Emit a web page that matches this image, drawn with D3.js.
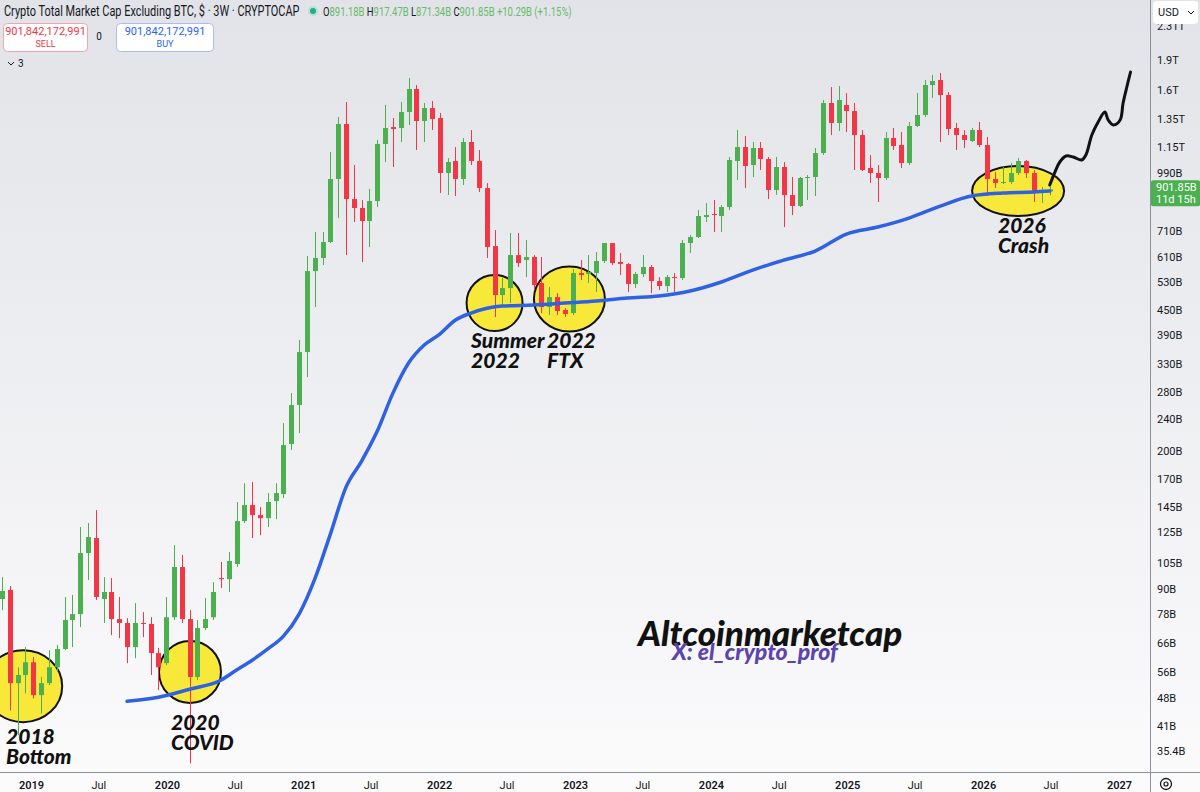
<!DOCTYPE html>
<html>
<head>
  <meta charset="utf-8">
  <title>altcoin-market-cap</title>
  <style>
    * { margin: 0; padding: 0; }
    body { width: 1200px; height: 792px; overflow: hidden; background: #fff; }
    svg { display: block; font-family: Roboto, "Liberation Sans", sans-serif; }
    .note { font-family: Lato, "Open Sans", sans-serif; font-style: italic; font-weight: 900; }
  </style>
</head>
<body>
  <svg id="chart" width="1200" height="792"></svg>
  <script src="https://cdnjs.cloudflare.com/ajax/libs/d3/7.8.5/d3.min.js"></script>
  <script>
    // 3W candles, values in billions USD
    const firstCandle = new Date(Date.UTC(2018, 9, 15))
    const candleOpen = [85.1, 89.6, 52.4, 54.9, 59.1, 48.9, 52.4, 57.4, 63.8, 75.4,
      78.0, 110.9, 120.9, 85.1, 88.6, 75.8, 74.1, 64.5, 74.1, 73.7,
      62.3, 58.8, 76.6, 102.3, 75.8, 54.3, 72.0, 76.6, 96.0, 95.4,
      104.1, 133.3, 146.2, 138.0, 135.6, 149.6, 155.8, 207.8, 260.2, 353.1,
      563.1, 607.0, 665.6, 957.1, 1313.9, 852.8, 809.7, 751.3, 843.0, 1170.9,
      1291.4, 1284.0, 1408.1, 1607.6, 1336.9, 1440.9, 1360.2, 990.7, 1061.7, 957.1,
      1184.5, 1061.7, 908.6, 650.4, 490.4, 510.6, 617.5, 600.0, 610.5, 525.5,
      457.7, 484.7, 449.8, 442.1, 556.7, 553.5, 556.7, 596.6, 661.8, 593.1,
      586.3, 522.5, 553.5, 576.3, 531.6, 516.5, 544.0, 540.9, 661.8, 685.1,
      768.8, 782.2, 773.2, 814.4, 1061.7, 1150.8, 1037.5, 1144.2, 1073.9, 898.2,
      1025.6, 872.7, 819.1, 962.6, 968.1, 1111.7, 1483.0, 1321.6, 1466.0, 1416.2,
      1233.2, 1019.7, 990.7, 962.6, 1212.1, 1164.2, 1049.5, 1298.9, 1383.9, 1645.1,
      1693.2, 1553.0, 1284.0, 1233.2, 1191.3, 1269.3, 1164.2, 957.1, 935.2, 940.6,
      990.7, 1061.7, 990.7, 887.9, 891.18]
    const candleHigh = [96.5, 91.7, 57.4, 64.5, 60.9, 54.3, 63.4, 65.3, 86.1, 87.1,
      128.8, 131.8, 142.0, 96.5, 96.0, 86.1, 76.2, 83.1, 78.9, 76.6,
      64.2, 86.1, 116.1, 109.6, 79.8, 75.4, 85.6, 93.8, 105.3, 111.5,
      148.8, 165.9, 166.9, 144.5, 156.7, 165.9, 234.5, 278.7, 378.4, 614.0,
      705.1, 705.1, 1118.1, 1368.1, 1491.6, 1037.5, 847.9, 903.4, 1198.2, 1466.0,
      1360.2, 1491.6, 1712.9, 1645.1, 1483.0, 1500.2, 1400.0, 1080.1, 1150.8, 1212.1,
      1269.3, 1131.1, 935.2, 713.3, 540.9, 701.1, 701.1, 673.3, 617.5, 610.5,
      513.6, 496.0, 455.0, 569.7, 600.0, 617.5, 628.3, 661.8, 661.8, 624.7,
      589.7, 559.9, 617.5, 583.0, 544.0, 550.3, 556.7, 673.3, 693.0, 800.4,
      833.4, 847.9, 823.8, 1086.4, 1269.3, 1226.2, 1184.5, 1184.5, 1086.4, 1086.4,
      1055.6, 968.1, 968.1, 979.4, 1144.2, 1508.9, 1626.3, 1635.6, 1571.0, 1483.0,
      1269.3, 1099.0, 1037.5, 1254.8, 1284.0, 1254.8, 1329.2, 1571.0, 1693.2, 1742.7,
      1763.0, 1580.1, 1321.6, 1269.3, 1284.0, 1329.2, 1219.1, 996.4, 1025.6, 1049.5,
      1080.1, 1067.8, 1008.0, 913.9, 917.47]
    const candleLow = [79.8, 44.8, 38.8, 49.4, 48.0, 44.0, 51.8, 55.9, 63.4, 64.5,
      72.4, 94.9, 84.6, 74.1, 69.1, 67.9, 58.8, 60.5, 68.3, 54.9,
      50.3, 58.1, 75.4, 74.1, 33.0, 53.3, 71.1, 75.4, 90.6, 88.6,
      102.3, 131.8, 120.9, 123.0, 128.8, 134.8, 152.2, 200.7, 221.3, 305.7,
      457.7, 583.0, 661.8, 764.3, 617.5, 746.9, 593.1, 646.7, 814.4, 1055.6,
      1025.6, 1184.5, 1306.4, 1131.1, 1184.5, 1269.3, 882.8, 872.7, 867.7, 924.5,
      1037.5, 887.9, 607.0, 432.0, 463.0, 468.3, 576.3, 544.0, 504.7, 442.1,
      437.0, 437.0, 432.0, 437.0, 534.7, 525.5, 498.9, 589.7, 583.0, 550.3,
      498.9, 510.6, 544.0, 496.0, 504.7, 498.9, 498.9, 534.7, 624.7, 681.2,
      746.9, 705.1, 705.1, 800.4, 951.5, 908.6, 968.1, 1008.0, 852.8, 872.7,
      725.7, 777.7, 814.4, 847.9, 867.7, 1099.0, 1233.2, 1262.0, 1254.8, 1008.0,
      1002.2, 935.2, 838.2, 951.5, 1131.1, 1019.7, 1037.5, 1291.4, 1368.1, 1526.4,
      1184.5, 1233.2, 1131.1, 1144.2, 1184.5, 1150.8, 867.7, 908.6, 929.8, 929.8,
      979.4, 962.6, 838.2, 833.4, 871.34]
    const candleClose = [89.1, 52.4, 54.9, 59.1, 48.9, 52.4, 57.4, 63.8, 75.4, 78.0,
      110.9, 121.6, 86.1, 88.6, 75.8, 74.1, 64.5, 74.1, 73.7, 62.3,
      57.4, 76.6, 102.3, 75.8, 54.3, 72.0, 75.8, 88.6, 95.4, 105.9,
      133.3, 146.2, 138.0, 135.6, 148.8, 156.7, 206.6, 260.2, 353.1, 563.1,
      607.0, 665.6, 957.1, 1313.9, 852.8, 809.7, 751.3, 843.0, 1170.9, 1284.0,
      1276.6, 1408.1, 1607.6, 1336.9, 1440.9, 1352.4, 990.7, 1055.6, 957.1, 1184.5,
      1061.7, 908.6, 646.7, 490.4, 510.6, 617.5, 589.7, 610.5, 519.5, 457.7,
      484.7, 447.2, 439.5, 556.7, 550.3, 559.9, 596.6, 661.8, 589.7, 586.3,
      522.5, 553.5, 576.3, 531.6, 516.5, 544.0, 540.9, 661.8, 685.1, 773.2,
      777.7, 777.7, 814.4, 1067.8, 1150.8, 1031.5, 1144.2, 1073.9, 898.2, 1025.6,
      872.7, 819.1, 962.6, 968.1, 1111.7, 1483.0, 1321.6, 1508.9, 1416.2, 1233.2,
      1008.0, 990.7, 962.6, 1212.1, 1157.5, 1049.5, 1298.9, 1383.9, 1645.1, 1683.5,
      1553.0, 1276.6, 1233.2, 1198.2, 1269.3, 1164.2, 957.1, 935.2, 940.6, 990.7,
      1061.7, 990.7, 887.9, 898.2, 901.85]

    // blue moving average, read at candle indexes
    const maAt = [16, 20, 24, 28, 30, 32, 34, 36, 38, 40, 42, 44, 46, 48, 50, 52, 54, 56, 58, 60,
      64, 68, 72, 76, 80, 84, 88, 92, 96, 100, 104, 108, 112, 116, 120, 124, 128, 132, 134]
    const maValue = [47.2, 48.3, 50.6, 53.3, 56.5, 59.8, 63.8, 68.7, 78.0, 95.4, 123.7, 162.1, 188.4, 223.9,
      278.7, 331.4, 367.6, 391.7, 424.6, 442.1, 460.3, 463.0, 468.3, 473.8, 482.0, 487.5, 501.8, 528.6,
      566.4, 600.0, 632.0, 697.0, 725.7, 764.3, 819.1, 867.7, 882.8, 887.9, 893.0]

    // hand drawn projection after the last candle
    const sketchDays = [0, 14, 27, 44, 63, 86, 97, 113, 130, 148, 157, 171, 189, 197, 207, 217]
    const sketchValue = [924.5, 996.4, 1055.6, 1092.7, 1086.4, 1067.8, 1099.0, 1233.2, 1329.2, 1408.1,
      1344.6, 1306.4, 1344.6, 1483.0, 1626.3, 1773.1]

    // circled areas and their labels
    const circleDate = ['2018-12-11', '2020-03-03', '2022-05-30', '2022-12-17', '2026-04-05']
    const circleValue = [51.5, 55.9, 468.3, 479.2, 893.0]
    const noteText = [['2018', 'Bottom'], ['2020', 'COVID'], ['Summer', '2022'], ['2022', 'FTX'], ['2026', 'Crash']]
    const noteDate = ['2018-10-26', '2020-01-12', '2022-03-28', '2022-10-18', '2026-02-10']
    const noteValue = [36.8, 39.9, 361.3, 361.3, 701.1]

    const yTicks = [35.4, 41, 48, 56, 66, 78, 90, 105, 125, 145, 170, 200, 240, 280, 330, 390, 450,
      530, 610, 710, 990, 1150, 1350, 1600, 1900, 2310]
    const lastPrice = 901.85

    const W = 1200, H = 792, plotRight = 1150, plotBottom = 772
    const up = '#4caf50', down = '#f23645'

    const x = d3.scaleUtc()
      .domain([new Date(Date.UTC(2019, 0, 1)), new Date(Date.UTC(2027, 0, 1))])
      .range([31, 1119])
    const y = d3.scaleLog().domain([31.4, 2685]).range([plotBottom, 0])

    const candles = candleOpen.map((o, i) => ({
      date: d3.utcDay.offset(firstCandle, 21 * i),
      o, h: candleHigh[i], l: candleLow[i], c: candleClose[i]
    }))

    const svg = d3.select('#chart')
    const defs = svg.append('defs')
    const grad = defs.append('linearGradient').attr('id', 'bg').attr('x1', 0).attr('y1', 0).attr('x2', 0).attr('y2', 1)
    grad.append('stop').attr('offset', '0%').attr('stop-color', '#e2e3e8')
    grad.append('stop').attr('offset', '100%').attr('stop-color', '#fbfbfc')
    defs.append('clipPath').attr('id', 'plot').append('rect').attr('width', plotRight).attr('height', plotBottom)

    svg.append('rect').attr('width', W).attr('height', H).attr('fill', 'url(#bg)')

    const plot = svg.append('g').attr('clip-path', 'url(#plot)')

    // yellow circles under the candles
    const circleR = [[39, 36], [31, 31], [28, 28], [35.5, 32.5], [46, 25]]
    plot.append('g').selectAll('ellipse')
      .data(circleDate)
      .join('ellipse')
      .attr('cx', d => x(new Date(d)))
      .attr('cy', (d, i) => y(circleValue[i]))
      .attr('rx', (d, i) => circleR[i][0])
      .attr('ry', (d, i) => circleR[i][1])
      .attr('fill', '#f7e83a')
      .attr('stroke', '#111')
      .attr('stroke-width', 2)

    const cg = plot.append('g')
    cg.selectAll('line')
      .data(candles)
      .join('line')
      .attr('x1', d => Math.round(x(d.date)) + 0.5)
      .attr('x2', d => Math.round(x(d.date)) + 0.5)
      .attr('y1', d => y(d.h))
      .attr('y2', d => y(d.l))
      .attr('stroke', d => d.c >= d.o ? up : down)
      .attr('stroke-width', 1)
    cg.selectAll('rect')
      .data(candles)
      .join('rect')
      .attr('x', d => Math.round(x(d.date)) - 2)
      .attr('width', 5)
      .attr('y', d => y(Math.max(d.o, d.c)))
      .attr('height', d => Math.max(1, Math.abs(y(d.o) - y(d.c))))
      .attr('fill', d => d.c >= d.o ? up : down)

    // moving average
    const ma = maAt.map((k, i) => ({ date: candles[k].date, v: maValue[i] }))
    plot.append('path')
      .datum(ma)
      .attr('fill', 'none')
      .attr('stroke', '#2f62e3')
      .attr('stroke-width', 3.5)
      .attr('stroke-linecap', 'round')
      .attr('d', d3.line().x(d => x(d.date)).y(d => y(d.v)).curve(d3.curveMonotoneX))

    // projection scribble
    const lastDate = candles[candles.length - 1].date
    const sketch = sketchDays.map((d, i) => ({ date: d3.utcDay.offset(lastDate, d), v: sketchValue[i] }))
    plot.append('path')
      .datum(sketch)
      .attr('fill', 'none')
      .attr('stroke', '#111')
      .attr('stroke-width', 3)
      .attr('stroke-linejoin', 'round')
      .attr('stroke-linecap', 'round')
      .attr('d', d3.line().x(d => x(d.date)).y(d => y(d.v)).curve(d3.curveCatmullRom))

    // labels for the circles
    noteText.forEach((lines, i) => {
      const t = plot.append('text').attr('class', 'note')
        .attr('x', x(new Date(noteDate[i])))
        .attr('y', y(noteValue[i]))
        .attr('font-size', 21)
        .attr('fill', '#111')
      lines.forEach((s, j) => t.append('tspan').attr('x', x(new Date(noteDate[i]))).attr('dy', j ? 20 : 0).text(s))
    })

    // watermark
    svg.append('text').attr('class', 'note').attr('x', 638).attr('y', 646)
      .attr('font-size', 35).attr('fill', '#111').text('Altcoinmarketcap')
    svg.append('text').attr('class', 'note').attr('x', 672).attr('y', 660)
      .attr('font-size', 23).attr('fill', '#5b45ad').text('X: el_crypto_prof')

    // frame lines
    svg.append('line').attr('x1', plotRight + 0.5).attr('x2', plotRight + 0.5).attr('y1', 0).attr('y2', H)
      .attr('stroke', '#8d9099').attr('stroke-width', 1)
    svg.append('line').attr('x1', 0).attr('x2', W).attr('y1', plotBottom + 0.5).attr('y2', plotBottom + 0.5)
      .attr('stroke', '#8d9099').attr('stroke-width', 1)

    // price axis
    const fmt = v => v >= 1000 ? (v / 1000) + 'T' : v + 'B'
    svg.append('g')
      .attr('transform', `translate(${plotRight + 7},0)`)
      .call(d3.axisRight(y).tickValues(yTicks).tickFormat(fmt).tickSize(0).tickPadding(0))
      .call(g => g.select('.domain').remove())
      .selectAll('text')
      .attr('font-size', 11)
      .attr('font-family', 'Roboto, sans-serif')
      .attr('fill', '#131722')

    // time axis
    const xTicks = d3.utcMonth.every(6).range(new Date(Date.UTC(2019, 0, 1)), new Date(Date.UTC(2027, 0, 2)))
    svg.append('g')
      .attr('transform', `translate(0,${plotBottom + 9})`)
      .call(d3.axisBottom(x).tickValues(xTicks)
        .tickFormat(d => d.getUTCMonth() === 0 ? d.getUTCFullYear() : 'Jul').tickSize(0).tickPadding(0))
      .call(g => g.select('.domain').remove())
      .selectAll('text')
      .attr('font-size', 11)
      .attr('font-family', 'Roboto, sans-serif')
      .attr('font-weight', d => d.getUTCMonth() === 0 ? 600 : 400)
      .attr('fill', '#131722')

    // gear
    svg.append('circle').attr('cx', 1166).attr('cy', 784).attr('r', 5.5)
      .attr('fill', 'none').attr('stroke', '#131722').attr('stroke-width', 1.3)
    svg.append('circle').attr('cx', 1166).attr('cy', 784).attr('r', 2)
      .attr('fill', 'none').attr('stroke', '#131722').attr('stroke-width', 1.2)

    // USD box, it hides the top of the 2.31T label like in the app
    svg.append('rect').attr('x', 1153).attr('y', 1).attr('width', 45).attr('height', 23).attr('rx', 4).attr('fill', '#fff')
    svg.append('text').attr('x', 1158).attr('y', 16).attr('font-size', 11).attr('fill', '#131722').text('USD')
    svg.append('path').attr('d', 'M1188,11 l3,3 l3,-3').attr('fill', 'none').attr('stroke', '#131722').attr('stroke-width', 1)

    // last price tag
    const py = y(lastPrice)
    svg.append('rect').attr('x', plotRight + 1).attr('y', py - 9).attr('width', 49).attr('height', 26).attr('rx', 2).attr('fill', up)
    svg.append('text').attr('x', plotRight + 6).attr('y', py + 2).attr('font-size', 11).attr('fill', '#fff').text('901.85B')
    svg.append('text').attr('x', plotRight + 6).attr('y', py + 14).attr('font-size', 11).attr('fill', '#fff').text('11d 15h')

    // header, squeezed to the narrow width of the app font
    const squeeze = (sel, x0, y0, width) => {
      const len = sel.node().getComputedTextLength()
      sel.attr('transform', `translate(${x0},${y0}) scale(${width / len},1)`)
    }
    const title = svg.append('text').attr('font-size', 14).attr('fill', '#131722')
      .text('Crypto Total Market Cap Excluding BTC, $ · 3W · CRYPTOCAP')
    squeeze(title, 4, 16, 296)
    svg.append('circle').attr('cx', 313).attr('cy', 11).attr('r', 5).attr('fill', '#b7e2cf')
    svg.append('circle').attr('cx', 313).attr('cy', 11).attr('r', 3).attr('fill', '#22ab94')
    const ohlc = svg.append('text').attr('font-size', 12)
    ;[['O', '891.18B'], [' H', '917.47B'], [' L', '871.34B'], [' C', '901.85B'], [' ', '+10.29B (+1.15%)']].forEach(p => {
      ohlc.append('tspan').attr('fill', '#131722').text(p[0])
      ohlc.append('tspan').attr('fill', '#66bb6a').text(p[1])
    })
    squeeze(ohlc, 323, 16, 249)

    // sell / buy boxes
    svg.append('rect').attr('x', 3.5).attr('y', 23.5).attr('width', 84).attr('height', 28).attr('rx', 4)
      .attr('fill', '#fff').attr('stroke', '#f3a3aa')
    svg.append('text').attr('x', 45.5).attr('y', 35).attr('text-anchor', 'middle').attr('font-size', 11).attr('fill', '#f23645').text('901,842,172,991')
    svg.append('text').attr('x', 45.5).attr('y', 47).attr('text-anchor', 'middle').attr('font-size', 9).attr('fill', '#f23645').text('SELL')
    svg.append('text').attr('x', 99).attr('y', 40).attr('text-anchor', 'middle').attr('font-size', 10).attr('fill', '#131722').text('0')
    svg.append('rect').attr('x', 116.5).attr('y', 23.5).attr('width', 97).attr('height', 28).attr('rx', 4)
      .attr('fill', '#fff').attr('stroke', '#a9bcf5')
    svg.append('text').attr('x', 165).attr('y', 35).attr('text-anchor', 'middle').attr('font-size', 11).attr('fill', '#2962ff').text('901,842,172,991')
    svg.append('text').attr('x', 165).attr('y', 47).attr('text-anchor', 'middle').attr('font-size', 9).attr('fill', '#2962ff').text('BUY')
    svg.append('path').attr('d', 'M8,62 l3,3 l3,-3').attr('fill', 'none').attr('stroke', '#131722').attr('stroke-width', 1)
    svg.append('text').attr('x', 18).attr('y', 67).attr('font-size', 10).attr('fill', '#131722').text('3')
  </script>
</body>
</html>
